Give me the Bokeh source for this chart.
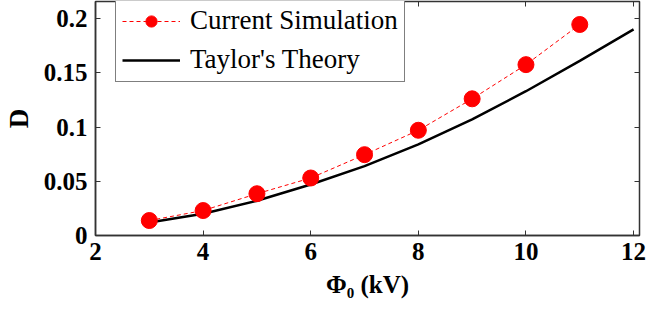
from bokeh.plotting import figure
from bokeh.models import (LinearAxis, FixedTicker, Legend, LegendItem,
                          CustomJSTickFormatter, Range1d)
from bokeh.embed import file_html
from bokeh.resources import INLINE

# ---- data ----
phi_sim = [3, 4, 5, 6, 7, 8, 9, 10, 11]
d_sim = [0.0138, 0.023, 0.0385, 0.053, 0.0745, 0.097, 0.126, 0.1575, 0.1945]
phi_theory = [3, 4, 5, 6, 7, 8, 9, 10, 11, 12]
d_theory = [0.012, 0.020, 0.032, 0.047, 0.064, 0.084, 0.107, 0.133, 0.161, 0.19]
x_ticks = [2, 4, 6, 8, 10, 12]
y_ticks = [0, 0.05, 0.1, 0.15, 0.2]
sim_label = "Current Simulation"
theory_label = "Taylor's Theory"
x_title = "Φ₀ (kV)"
y_title = "D"

SERIF = "Liberation Serif"
FRAME = "#333333"

p = figure(width=656, height=301, output_backend="svg", toolbar_location=None,
           x_range=Range1d(2, 12.11), y_range=Range1d(0, 0.2157),
           min_border_left=94, min_border_right=17, min_border_top=1,
           min_border_bottom=66)
p.grid.visible = False
p.outline_line_color = FRAME
p.outline_line_width = 1.5
p.background_fill_color = "white"
p.border_fill_color = "white"

fmt = CustomJSTickFormatter(code="return String(parseFloat(tick.toFixed(3)));")
blank = CustomJSTickFormatter(code="return '';")

for ax, ticks in ((p.xaxis[0], x_ticks), (p.yaxis[0], y_ticks)):
    ax.ticker = FixedTicker(ticks=ticks)
    ax.formatter = fmt
    ax.major_tick_in = 5
    ax.major_tick_out = 0
    ax.minor_tick_line_color = None
    ax.major_tick_line_color = FRAME
    ax.axis_line_color = FRAME
    ax.axis_line_width = 1.5
    ax.major_label_text_font = SERIF
    ax.major_label_text_font_style = "bold"
    ax.major_label_text_font_size = "25px"
    ax.major_label_text_color = "black"
    ax.axis_label_text_font = SERIF
    ax.axis_label_text_font_style = "bold"
    ax.axis_label_text_color = "black"

p.xaxis.major_label_standoff = 7
p.yaxis.major_label_standoff = 8
p.yaxis.axis_label = y_title
p.yaxis.axis_label_text_font_size = "27px"
p.yaxis.axis_label_standoff = 7
p.xaxis.axis_label = x_title
p.xaxis.axis_label_text_font_size = "25px"
p.xaxis.axis_label_standoff = 8

# mirrored ticks on top and right
for loc, ticks in (("above", x_ticks), ("right", y_ticks)):
    ax = LinearAxis(ticker=FixedTicker(ticks=ticks), formatter=blank,
                    major_label_text_color=None, axis_line_color=None,
                    major_tick_in=5, major_tick_out=0, major_tick_line_color=FRAME,
                    minor_tick_line_color=None, major_label_standoff=0)
    p.add_layout(ax, loc)

# series
th = p.line(phi_theory, d_theory, line_color="black", line_width=2.5)
sl = p.line(phi_sim, d_sim, line_color="red", line_width=1, line_dash="4 3")
sm = p.scatter(phi_sim, d_sim, marker="circle", size=16, fill_color="red", line_color="red")

legend = Legend(items=[LegendItem(label=sim_label, renderers=[sl, sm]),
                       LegendItem(label=theory_label, renderers=[th])],
                location=(20, 153), glyph_width=58, glyph_height=28, spacing=8,
                padding=6, label_standoff=10, label_text_font=SERIF,
                label_text_font_size="27px", label_text_color="black",
                border_line_color="black", border_line_width=1.5,
                background_fill_alpha=1, margin=0)
p.add_layout(legend)

open("out.html", "w").write(file_html(p, INLINE))
